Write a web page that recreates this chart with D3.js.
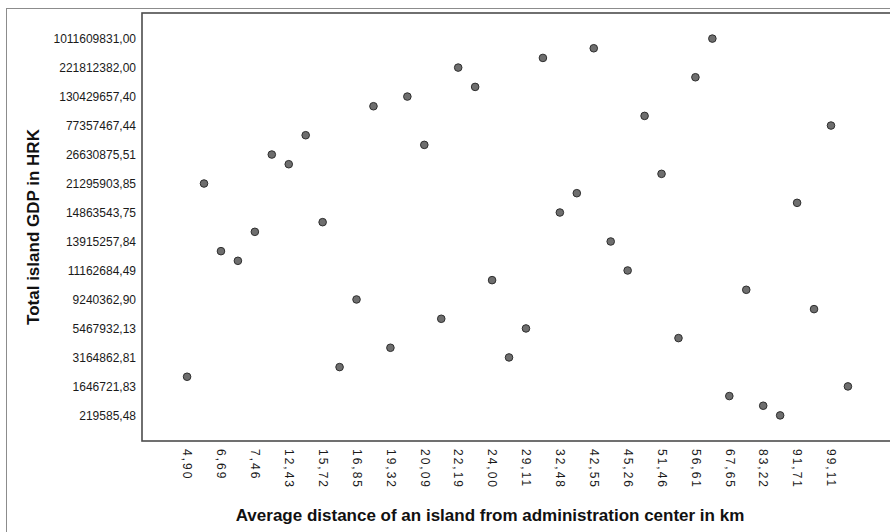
<!DOCTYPE html>
<html>
<head>
<meta charset="utf-8">
<script src="https://cdn.jsdelivr.net/npm/d3@7"></script>
<style>
  html, body { margin: 0; padding: 0; background: #fff; }
  svg { display: block; font-family: "Liberation Sans", Arial, sans-serif; }
</style>
</head>
<body>
<svg id="chart" width="890" height="532"></svg>
<script>
// Islands ordered by average distance from the administration center (rank 0 = nearest).
// Each entry is the island's rank by total GDP (rank 0 = lowest GDP).
const gdpRankByDistance = [
  4, 24, 17, 16, 19, 27, 26, 29, 20, 5,
  12, 32, 7, 33, 28, 10, 36, 34, 14, 6,
  9, 37, 21, 23, 38, 18, 15, 31, 25, 8,
  35, 39, 2, 13, 1, 0, 22, 11, 30, 3
];

// Distance categories labelled on the x axis (every second rank).
const distanceTickLabels = [
  "4,90", "6,69", "7,46", "12,43", "15,72", "16,85", "19,32", "20,09", "22,19", "24,00",
  "29,11", "32,48", "42,55", "45,26", "51,46", "56,61", "67,65", "83,22", "91,71", "99,11"
];

// GDP categories labelled on the y axis (every third rank, lowest first).
const gdpTickLabels = [
  "219585,48", "1646721,83", "3164862,81", "5467932,13", "9240362,90",
  "11162684,49", "13915257,84", "14863543,75", "21295903,85", "26630875,51",
  "77357467,44", "130429657,40", "221812382,00", "1011609831,00"
];

const xTitle = "Average distance of an island from administration center in km";
const yTitle = "Total island GDP in HRK";

const svg = d3.select("#chart");
const n = gdpRankByDistance.length;

const frame = { left: 142, top: 13, right: 893, bottom: 441 };

const x = d3.scalePoint()
  .domain(d3.range(n))
  .range([frame.left, frame.right])
  .padding(2.66);

const y = d3.scalePoint()
  .domain(d3.range(n))
  .range([frame.bottom, frame.top])
  .padding(2.65);

// Outer chart border
svg.append("rect")
  .attr("x", 6.5).attr("y", 8.5)
  .attr("width", 900).attr("height", 600)
  .attr("fill", "none")
  .attr("stroke", "#8c8c8c")
  .attr("stroke-width", 1);

// Plot frame
svg.append("rect")
  .attr("x", frame.left).attr("y", frame.top)
  .attr("width", frame.right - frame.left)
  .attr("height", frame.bottom - frame.top)
  .attr("fill", "#fff")
  .attr("stroke", "#4d4d4d")
  .attr("stroke-width", 1.6);

// Y axis tick labels
const yTicks = gdpTickLabels.map((label, i) => ({ rank: i * 3, label }));
const yAxis = d3.axisLeft(y)
  .tickValues(yTicks.map(d => d.rank))
  .tickFormat(r => yTicks.find(d => d.rank === r).label)
  .tickSize(0)
  .tickPadding(6);
const gy = svg.append("g")
  .attr("transform", `translate(${frame.left},0)`)
  .call(yAxis);
gy.select(".domain").remove();
gy.selectAll("text")
  .attr("font-size", "12px")
  .attr("font-family", "'Liberation Sans', Arial, sans-serif")
  .attr("fill", "#1a1a1a");

// X axis tick labels, rotated to read downward
const xTicks = distanceTickLabels.map((label, i) => ({ rank: i * 2, label }));
const xAxis = d3.axisBottom(x)
  .tickValues(xTicks.map(d => d.rank))
  .tickFormat(r => xTicks.find(d => d.rank === r).label)
  .tickSize(0);
const gx = svg.append("g")
  .attr("transform", `translate(0,${frame.bottom})`)
  .call(xAxis);
gx.select(".domain").remove();
gx.selectAll("text")
  .attr("font-size", "12px")
  .attr("font-family", "'Liberation Sans', Arial, sans-serif")
  .attr("letter-spacing", "2px")
  .attr("fill", "#1a1a1a")
  .attr("text-anchor", "start")
  .attr("y", 0)
  .attr("dy", "0.35em")
  .attr("transform", "translate(0,8) rotate(90)");

// Points
svg.append("g")
  .selectAll("circle")
  .data(gdpRankByDistance)
  .join("circle")
  .attr("cx", (d, i) => x(i))
  .attr("cy", d => y(d))
  .attr("r", 3.8)
  .attr("fill", "#6e6e6e")
  .attr("stroke", "#2e2e2e")
  .attr("stroke-width", 1);

// Axis titles
svg.append("text")
  .attr("x", 490)
  .attr("y", 521)
  .attr("text-anchor", "middle")
  .attr("font-size", "17px")
  .attr("font-weight", "bold")
  .attr("fill", "#111")
  .text(xTitle);

svg.append("text")
  .attr("transform", `translate(39,227) rotate(-90)`)
  .attr("text-anchor", "middle")
  .attr("font-size", "17px")
  .attr("font-weight", "bold")
  .attr("fill", "#111")
  .text(yTitle);
</script>
</body>
</html>
